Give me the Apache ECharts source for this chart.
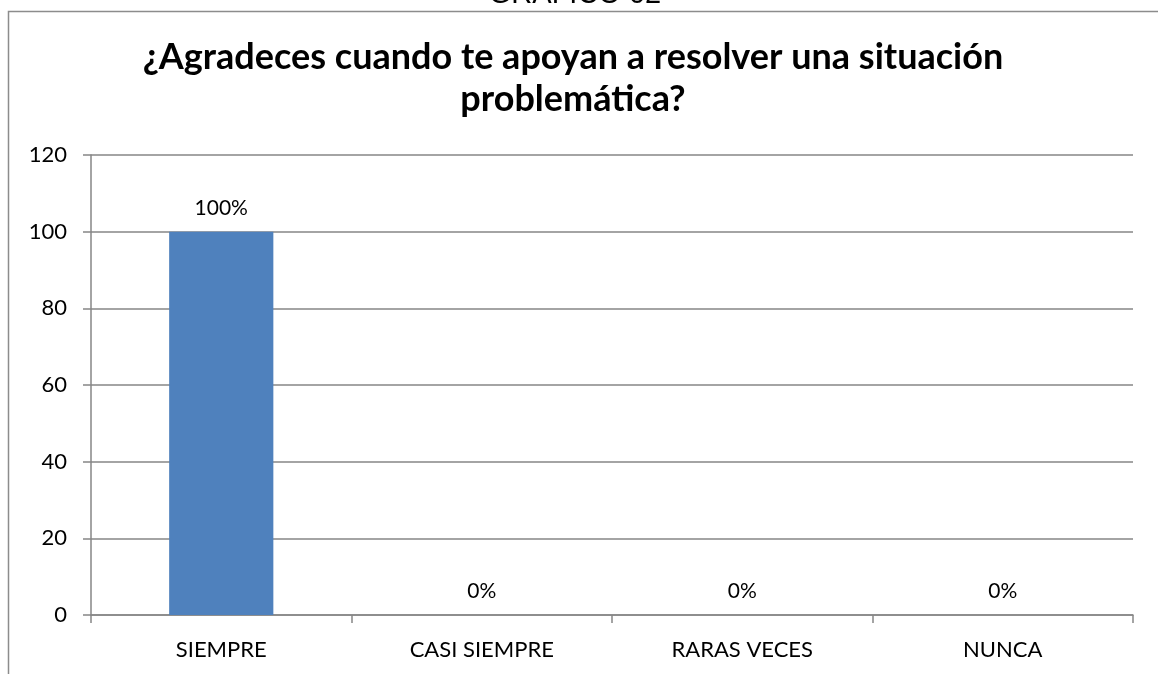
<!DOCTYPE html>
<html><head><meta charset="utf-8">
<script src="https://cdn.jsdelivr.net/npm/echarts@6/dist/echarts.min.js"></script>
<style>html,body{margin:0;padding:0;background:#fff}#c{width:1158px;height:674px}</style>
</head><body><div id="c"></div>
<script>
const categories = ['SIEMPRE', 'CASI SIEMPRE', 'RARAS VECES', 'NUNCA'];
const values = [100, 0, 0, 0];
const labels = ['100%', '0%', '0%', '0%'];
const yTicks = [0, 20, 40, 60, 80, 100, 120];
const titleText = '¿Agradeces cuando te apoyan a resolver una situación\nproblemática?';
const topText = 'GRÁFICO 02';

const chart = echarts.init(document.getElementById('c'), null, {renderer: 'canvas'});
const font = 'Lato, "Open Sans", "Liberation Sans", sans-serif';
chart.setOption({
  animation: false,
  backgroundColor: '#fff',
  graphic: [
    {type: 'rect', shape: {x: 8.5, y: 11.5, width: 1200, height: 700}, style: {fill: 'none', stroke: '#8c8c8c', lineWidth: 1.5}, z: 0},
    {type: 'text', x: 575, y: 9, style: {text: topText, font: '29px "Liberation Sans", Arial, sans-serif', fill: '#000', align: 'center', verticalAlign: 'bottom'}}
  ],
  title: {
    text: titleText, left: 568, top: 31, textAlign: 'center',
    textStyle: {fontFamily: font, fontWeight: 'bold', fontSize: 36, lineHeight: 42, color: '#000'}
  },
  grid: {left: 91, right: 25, top: 155, bottom: 59, containLabel: false},
  xAxis: {
    type: 'category', data: categories,
    axisLine: {lineStyle: {color: '#868686', width: 1.5}},
    axisTick: {show: true, length: 8, lineStyle: {color: '#868686', width: 1.5}},
    axisLabel: {color: '#000', fontFamily: font, fontSize: 22, margin: 24}
  },
  yAxis: {
    type: 'value', min: 0, max: 120, interval: 20,
    axisLine: {show: true, lineStyle: {color: '#868686', width: 1.5}},
    axisTick: {show: true, length: 8, lineStyle: {color: '#868686', width: 1.5}},
    splitLine: {lineStyle: {color: '#868686', width: 1.5}},
    axisLabel: {color: '#000', fontFamily: font, fontSize: 22, margin: 24,
      formatter: v => yTicks.includes(v) ? String(v) : ''}
  },
  series: [{
    type: 'bar', data: values, barWidth: '40%',
    itemStyle: {color: '#4f81bd'},
    label: {show: true, position: 'top', distance: 13, color: '#000', fontFamily: font, fontSize: 21,
      formatter: p => labels[p.dataIndex]}
  }]
});
</script></body></html>
